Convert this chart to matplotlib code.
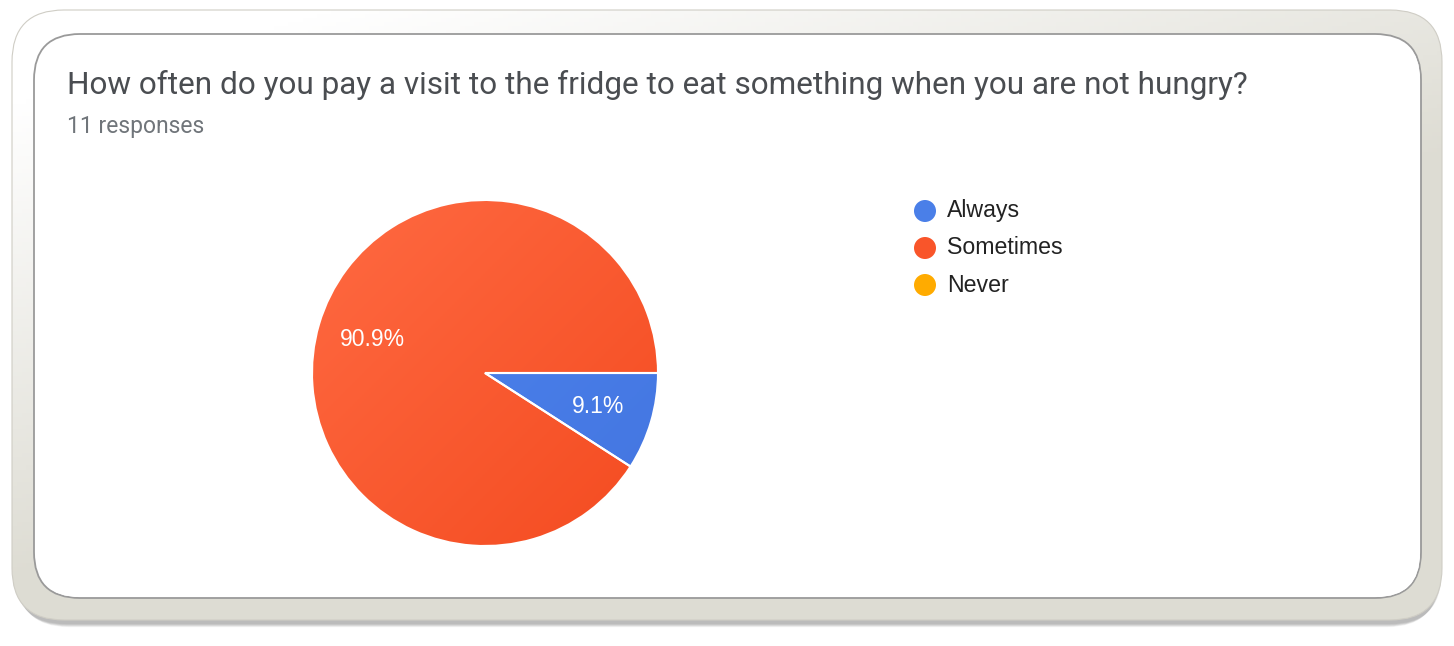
import numpy as np
import matplotlib.pyplot as plt
from matplotlib.patches import FancyBboxPatch, Circle, Wedge
from matplotlib.colors import to_rgb

# data
title = "How often do you pay a visit to the fridge to eat something when you are not hungry?"
subtitle = "11 responses"
categories = ["Always", "Sometimes", "Never"]
values = [1, 10, 0]
colors = ["#4a7fe8", "#f9552a", "#ffab00"]
shades = [("#4f86f0", "#4375e0"), ("#ff6a42", "#f44b20"), ("#ffb300", "#ffa000")]

W, H = 1454, 646
fig = plt.figure(figsize=(W / 100, H / 100), dpi=100)
bg = fig.add_axes([0, 0, 1, 1])
bg.set_xlim(0, W)
bg.set_ylim(H, 0)
bg.axis("off")

# drop shadow under the frame
for i in range(12):
    sh = FancyBboxPatch((14 + i * 0.3, 14 + i * 0.9), 1428 - i * 0.6, 610 - i * 0.6,
                        boxstyle="round,pad=0,rounding_size=52",
                        fc="#000000", ec="none", alpha=0.025, zorder=1)
    bg.add_patch(sh)

# outer frame with gradient
outer = FancyBboxPatch((12, 10), 1430, 610, boxstyle="round,pad=0,rounding_size=52",
                       fc="none", ec="#cfcdc5", lw=0.8, zorder=3)
bg.add_patch(outer)
gx, gy = np.meshgrid(np.linspace(0, 1, 300), np.linspace(0, 1, 150))
t = np.clip(gx * 0.9 + gy * 1.3 - 0.2, 0, 1)
c0 = np.array([1.0, 1.0, 1.0])
c1 = np.array([0.87, 0.865, 0.83])
grad = c0 + (c1 - c0) * t[..., None]
im = bg.imshow(grad, extent=(12, 1442, 620, 10), zorder=2, aspect="auto")
clip_outer = FancyBboxPatch((12, 10), 1430, 610, boxstyle="round,pad=0,rounding_size=52",
                            fc="none", ec="none", transform=bg.transData)
bg.add_patch(clip_outer)
im.set_clip_path(clip_outer)

# inner white panel
bg.add_patch(FancyBboxPatch((34, 34), 1387, 564, boxstyle="round,pad=0,rounding_size=46",
                            fc="white", ec="#9a9a9a", lw=1.3, zorder=4))
bg.add_patch(FancyBboxPatch((36, 36), 1384, 561, boxstyle="round,pad=0,rounding_size=44",
                            fc="white", ec="none", zorder=4))

# titles
bg.text(67, 85, title, fontsize=22.7, family="Roboto", color="#4a4d51",
        va="center", ha="left", zorder=5)
bg.text(67, 126, subtitle, fontsize=16.5, family="Roboto", color="#70757a",
        va="center", ha="left", zorder=5)

# legend
for i, (cat, col) in enumerate(zip(categories, colors)):
    y = 211 + i * 37
    bg.add_patch(Circle((925, y), 11, fc=col, ec="none", zorder=5))
    bg.text(947, y, cat, fontsize=16.7, family="Liberation Sans", color="#222222",
            va="center", ha="left", zorder=5)

# pie
cx, cy, r = 485, 373, 173
ax = fig.add_axes([(cx - r) / W, (H - cy - r) / H, 2 * r / W, 2 * r / H])
wedges, texts, autotexts = ax.pie(values, colors=colors, startangle=0, counterclock=False,
                                  autopct=lambda p: "%.1f%%" % p if p > 0 else "",
                                  pctdistance=0.68, radius=1,
                                  wedgeprops=dict(edgecolor="white", linewidth=1.5),
                                  textprops=dict(color="white", fontsize=16.5, family="Liberation Sans"))
ax.set_xlim(-1, 1)
ax.set_ylim(-1, 1)
ax.set_aspect("auto")

# soft diagonal shading on each slice
px, py = np.meshgrid(np.linspace(0, 1, 200), np.linspace(0, 1, 200))
tt = np.clip((px + py) / 2, 0, 1)
for w, (a, b) in zip(wedges, shades):
    if w.theta1 == w.theta2:
        continue
    ca = np.array(to_rgb(a))
    cb = np.array(to_rgb(b))
    img = ca + (cb - ca) * tt[..., None]
    g = ax.imshow(img, extent=(-1, 1, -1, 1), zorder=w.get_zorder() + 0.1, aspect="auto")
    g.set_clip_path(w)
    ax.add_patch(Wedge(w.center, w.r, w.theta1, w.theta2, fc="none",
                       ec="white", lw=1.5, zorder=w.get_zorder() + 0.2))
for at in autotexts:
    at.set_zorder(10)

fig.savefig("out.png", dpi=100)
